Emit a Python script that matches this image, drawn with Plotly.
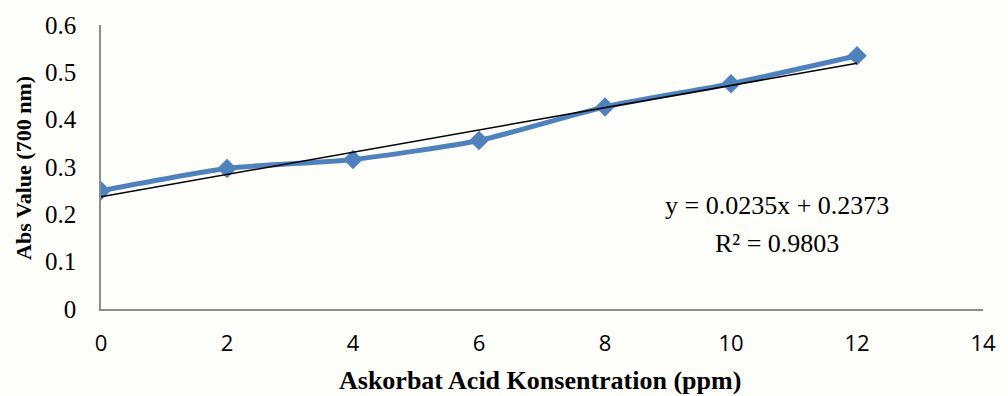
import plotly.graph_objects as go

# Ascorbic acid standard curve (absorbance at 700 nm)
concentration = [0, 2, 4, 6, 8, 10, 12]
absorbance = [0.250, 0.297, 0.316, 0.356, 0.427, 0.476, 0.535]

# Linear regression reported on the chart
slope = 0.0235
intercept = 0.2373
r_squared = 0.9803

trend_x = [min(concentration), max(concentration)]
trend_y = [slope * x + intercept for x in trend_x]

x_ticks = [0, 2, 4, 6, 8, 10, 12, 14]
y_ticks = [0, 0.1, 0.2, 0.3, 0.4, 0.5, 0.6]
y_tick_text = ["0", "0.1", "0.2", "0.3", "0.4", "0.5", "0.6"]

x_title = "Askorbat Acid Konsentration (ppm)"
y_title = "Abs Value (700 nm)"

SERIF = "Liberation Serif"

fig = go.Figure()

fig.add_trace(go.Scatter(
    x=concentration, y=absorbance,
    mode="lines+markers",
    line=dict(color="#4F81BD", width=5, shape="spline", smoothing=0.6),
    marker=dict(symbol="diamond", size=15, color="#4F81BD"),
    showlegend=False,
))

fig.add_trace(go.Scatter(
    x=trend_x, y=trend_y,
    mode="lines",
    line=dict(color="#000000", width=1.5),
    showlegend=False,
))

# regression equation and R² label
fig.add_annotation(
    x=0.766, y=0.365, xref="paper", yref="paper",
    text=f"y = {slope}x + {intercept}",
    showarrow=False, xanchor="center", yanchor="middle",
    font=dict(family=SERIF, size=26, color="#000000"),
)
fig.add_annotation(
    x=0.767, y=0.232, xref="paper", yref="paper",
    text=f"R² = {r_squared}",
    showarrow=False, xanchor="center", yanchor="middle",
    font=dict(family=SERIF, size=26, color="#000000"),
)

# axis titles
fig.add_annotation(
    x=0.498, y=-0.2526, xref="paper", yref="paper",
    text=f"<b>{x_title}</b>",
    showarrow=False, xanchor="center", yanchor="middle",
    font=dict(family=SERIF, size=26, color="#000000"),
)
fig.add_annotation(
    x=-0.088, y=0.498, xref="paper", yref="paper",
    text=f"<b>{y_title}</b>", textangle=-90,
    showarrow=False, xanchor="center", yanchor="middle",
    font=dict(family=SERIF, size=22, color="#000000"),
)

fig.update_layout(
    width=1008, height=396,
    margin=dict(l=101, r=20, t=24, b=87),
    paper_bgcolor="#fdfdf9",
    plot_bgcolor="#fdfdf9",
    xaxis=dict(
        range=[0, 14], tickvals=x_ticks,
        showgrid=False, zeroline=False,
        showline=True, linecolor="#8c8c8c", linewidth=1.5,
        ticks="outside", ticklen=14, tickcolor="rgba(0,0,0,0)",
        tickfont=dict(family="Open Sans", size=22, color="#000000"),
    ),
    yaxis=dict(
        range=[0, 0.6], tickvals=y_ticks, ticktext=y_tick_text,
        showgrid=False, zeroline=False,
        showline=True, linecolor="#8c8c8c", linewidth=1.5,
        ticks="outside", ticklen=18, tickcolor="rgba(0,0,0,0)",
        tickfont=dict(family=SERIF, size=25, color="#000000"),
    ),
)

fig.write_html("out.html")
